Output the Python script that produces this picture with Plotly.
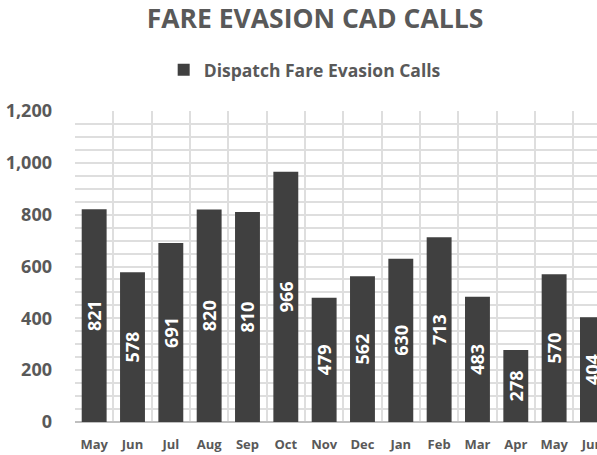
import plotly.graph_objects as go

months = ["May", "Jun", "Jul", "Aug", "Sep", "Oct", "Nov", "Dec", "Jan", "Feb", "Mar", "Apr", "May", "Jun"]
calls = [821, 578, 691, 820, 810, 966, 479, 562, 630, 713, 483, 278, 570, 404]
ytick_vals = [0, 200, 400, 600, 800, 1000, 1200]
ytick_text = ["0", "200", "400", "600", "800", "1,000", "1,200"]

FONT = "Open Sans"
GREY = "#595959"
BAR = "#404040"
GRID = "#dedede"

xs = list(range(len(months)))

fig = go.Figure()
fig.add_trace(go.Bar(
    x=xs, y=calls, name="Dispatch Fare Evasion Calls",
    marker=dict(color=BAR, line=dict(width=0)),
    width=0.65,
    text=[str(v) for v in calls],
    textposition="inside", insidetextanchor="middle", textangle=-90,
    constraintext="none",
    textfont=dict(family=FONT, size=18, color="white", weight="bold"),
    cliponaxis=True,
    showlegend=True,
))

fig.update_layout(
    width=597, height=455,
    margin=dict(l=75, r=0, t=111, b=33, autoexpand=False),
    paper_bgcolor="white", plot_bgcolor="white",
    font=dict(family=FONT, color=GREY),
    title=dict(text="<b>FARE EVASION CAD CALLS</b>", x=315 / 597, xanchor="center",
               y=1 - 19 / 455, yanchor="middle", xref="container", yref="container",
               font=dict(family=FONT, size=26.5, color=GREY)),
    legend=dict(orientation="h", x=0.44, xanchor="center", y=1.132, yanchor="middle",
                font=dict(family=FONT, size=17.5, color=GREY, weight="bold"),
                itemwidth=30, bgcolor="rgba(0,0,0,0)"),
    bargap=0.35,
    showlegend=True,
)

fig.update_xaxes(
    range=[-0.5, -0.5 + 522 / 38.33],
    automargin=False,
    tickmode="array", tickvals=xs, ticktext=months,
    showgrid=False, zeroline=False,
    showline=False,
    tickfont=dict(family=FONT, size=13, color=GREY, weight="bold"),
    ticks="", ticklabelstandoff=13, ticklabeloverflow="allow",
    minor=dict(tick0=0.5, dtick=1, showgrid=True, gridcolor=GRID, gridwidth=1.5, ticks=""),
)
fig.update_yaxes(
    range=[0, 1200],
    automargin=False,
    tickmode="array", tickvals=ytick_vals, ticktext=ytick_text,
    showgrid=True, gridcolor=GRID, gridwidth=1.5,
    zeroline=True, zerolinecolor="#bfbfbf", zerolinewidth=1.5,
    tickfont=dict(family=FONT, size=18, color=GREY, weight="bold"),
    ticks="", ticklabelstandoff=22,
    minor=dict(dtick=50, tick0=0, showgrid=True, gridcolor=GRID, gridwidth=1.5, ticks=""),
)

fig.write_html("out.html", config={"displayModeBar": False},
               post_script="document.body.style.margin='0';")
